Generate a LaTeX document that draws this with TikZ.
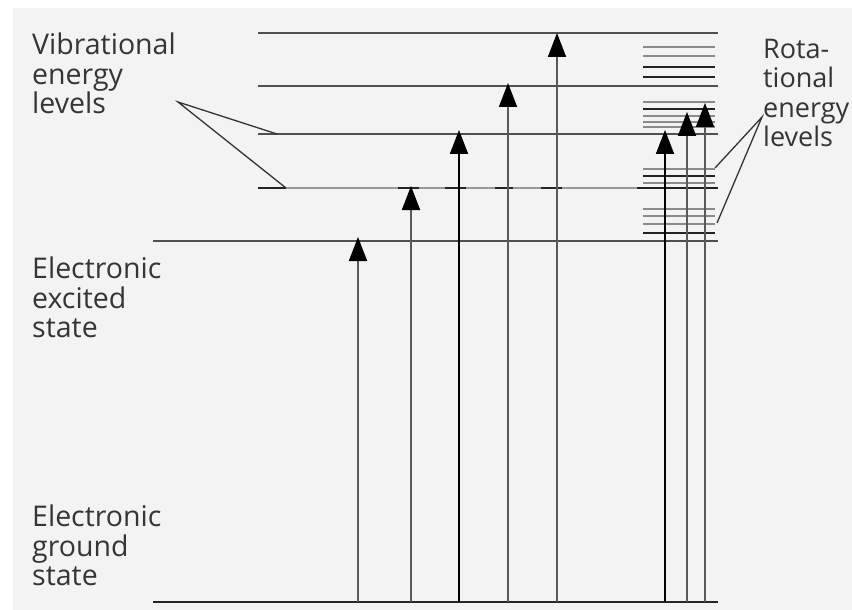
\documentclass[tikz,border=0pt]{standalone}
\usepackage{fontspec}
\setmainfont{Open Sans}
\usetikzlibrary{arrows.meta}
\definecolor{bg}{HTML}{F3F3F3}
\definecolor{txt}{HTML}{353535}
\definecolor{lvl}{HTML}{505050}
\definecolor{lvllight}{HTML}{999999}
\definecolor{rotdark}{HTML}{222222}
\definecolor{rotgray}{HTML}{8A8A8A}
\tikzset{
  lbl/.style={anchor=north west,align=left,text=txt,inner sep=0pt,font=\fontsize{28.5bp}{29.5bp}\selectfont},
  rlbl/.style={lbl,font=\fontsize{27bp}{29.5bp}\selectfont},
  level/.style={draw=lvl,line width=1.8bp},
  levellight/.style={draw=lvllight,line width=1.8bp},
  dashmark/.style={draw=black!85,line width=1.8bp},
  rotd/.style={draw=rotdark,line width=1.6bp},
  rotg/.style={draw=rotgray,line width=1.6bp},
  ptr/.style={draw=black!80,line width=1.3bp},
  trans/.style={draw=black!65,line width=1.8bp,-{Triangle[width=18bp,length=24bp,color=black]}},
  transdark/.style={draw=black,line width=1.8bp,-{Triangle[width=18bp,length=24bp,color=black]}},
}
\begin{document}
\begin{tikzpicture}[x=1bp,y=-1bp]
\useasboundingbox (0,0) rectangle (852,610);
\fill[white] (0,0) rectangle (852,610);
\fill[bg] (13,8) rectangle (852,610);

% labels
\node[lbl] (vib) at (32,33) {Vibrational\\energy\\levels};
\node[lbl] (exc) at (32,257) {Electronic\\excited\\state};
\node[lbl] (gnd) at (32,505) {Electronic\\ground\\state};
\node[rlbl] (rot) at (763,39) {Rota-\\tional\\energy\\levels};

% vibrational levels of the excited state
\coordinate (v4l) at (258,33);  \coordinate (v4r) at (718,33);
\coordinate (v3l) at (258,86);  \coordinate (v3r) at (718,86);
\coordinate (v2l) at (258,134); \coordinate (v2r) at (718,134);
\coordinate (v1l) at (258,188); \coordinate (v1m) at (637,188); \coordinate (v1r) at (718,188);
\coordinate (exl) at (153,241); \coordinate (exr) at (718,241);
\coordinate (gl)  at (153,602); \coordinate (gr)  at (718,602);
\draw[level] (v4l) -- (v4r);
\draw[level] (v3l) -- (v3r);
\draw[level] (v2l) -- (v2r);
\draw[levellight] (v1l) -- (v1m);
\draw[rotd] (v1m) -- (v1r);
\draw[level] (exl) -- (exr);
\draw[draw=black!85,line width=2bp] (gl) -- (gr);
% dark dashes on the lowest vibrational level
\foreach \a/\b in {258/286,398/419,445/466,495/513,541/562}
  \draw[dashmark] (\a,188) -- (\b,188);

% rotational levels
\foreach \y/\s in {47/rotg,56/rotg,67/rotd,77/rotd,
                   102/rotg,109/rotd,116/rotg,122/rotg,127/rotg,
                   169/rotg,176/rotd,183/rotg,
                   209/rotg,216/rotg,224/rotg,233/rotd}
  \draw[\s] (643,\y) -- (715,\y);

% pointers
\coordinate (vp) at (178,102);
\coordinate (vpa) at (277,134);
\coordinate (vpb) at (286,188);
\draw[ptr] (vpa) -- (vp) -- (vpb);
\coordinate (rp) at (762,117);
\coordinate (rpa) at (715,168);
\coordinate (rpb) at (717,223);
\draw[ptr] (rpa) -- (rp) -- (rpb);

% transitions
\foreach \n/\x/\t/\s in {a/358/237/trans,b/411/186/trans,c/459/130/transdark,d/508/83/trans,
                      e/557/33/trans,f/665/130/transdark,g/687/112/trans,h/705/103/trans}{
  \coordinate (s\n) at (\x,602);
  \coordinate (t\n) at (\x,\t);
  \draw[\s] (s\n) -- (t\n);
}
\end{tikzpicture}
\end{document}
